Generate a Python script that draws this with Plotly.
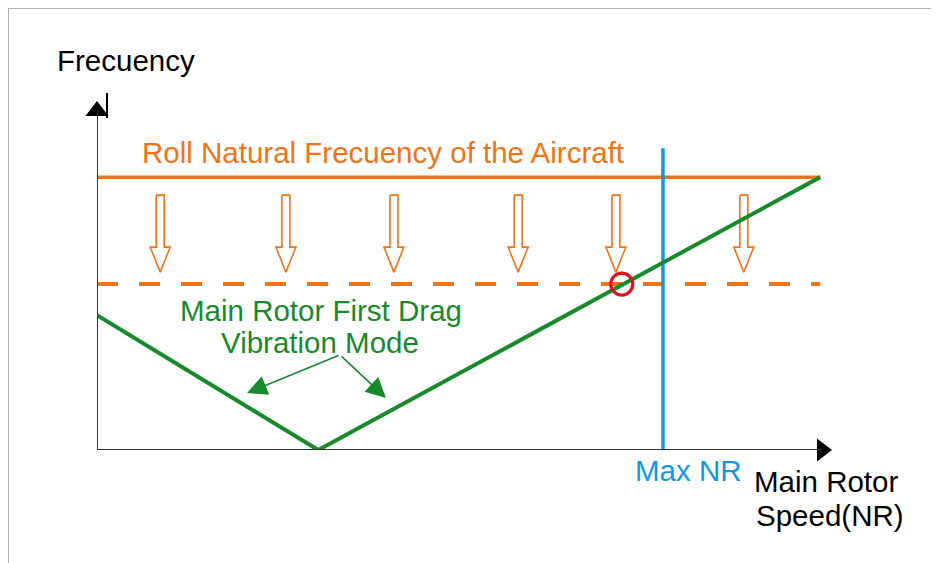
import plotly.graph_objects as go

W, H = 939, 563
OFF = 8                      # browser body margin
# plot-area pixel frame (axis origin and arrow tips), in window pixels
L, R, T, B = 97, 832, 97, 450

# ---- data (schematic units: 0..100 on both axes) ----
drag_speed = [0.0, 30.1, 98.4]          # main rotor first drag mode
drag_freq = [38.2, 0.0, 77.3]
roll_speed = [0.0, 98.4]
roll_freq = [77.3, 77.3]
shifted_speed = [0.0, 98.4]
shifted_freq = [47.0, 47.0]
max_nr_speed = 77.0
max_nr_top = 85.5
cross_speed = 71.4
cross_freq = 47.0
arrow_speeds = [8.6, 25.7, 40.4, 57.3, 70.6, 88.0]
arrow_top, arrow_bottom = 72.2, 50.4

ORANGE = "#f07317"
GREEN = "#178a2c"
BLUE = "#1496e0"
RED = "#e0101a"
FONT = "Liberation Sans, Arial, sans-serif"
FS = 29.5

sx = 100.0 / (R - L)   # data units per px
sy = 100.0 / (B - T)

def px(xp):
    return (xp - L) / (R - L)

def py(yp):
    return (B - yp) / (B - T)

fig = go.Figure()

# hollow downward arrows
for a in arrow_speeds:
    hs, hh, hl = 4 * sx, 10 * sx, 25 * sy
    xs = [a - hs, a + hs, a + hs, a + hh, a, a - hh, a - hs, a - hs]
    ys = [arrow_top, arrow_top, arrow_bottom + hl, arrow_bottom + hl,
          arrow_bottom, arrow_bottom + hl, arrow_bottom + hl, arrow_top]
    fig.add_trace(go.Scatter(x=xs, y=ys, mode="lines", fill="toself",
                             fillcolor="white", line=dict(color=ORANGE, width=1.6),
                             hoverinfo="skip", cliponaxis=False))

fig.add_trace(go.Scatter(x=roll_speed, y=roll_freq, mode="lines",
                         line=dict(color=ORANGE, width=3.5), cliponaxis=False))
fig.add_trace(go.Scatter(x=shifted_speed, y=shifted_freq, mode="lines",
                         line=dict(color=ORANGE, width=4, dash="21px,21px"),
                         cliponaxis=False))
fig.add_trace(go.Scatter(x=[max_nr_speed, max_nr_speed], y=[0, max_nr_top],
                         mode="lines", line=dict(color=BLUE, width=3.5),
                         cliponaxis=False))
fig.add_trace(go.Scatter(x=drag_speed, y=drag_freq, mode="lines",
                         line=dict(color=GREEN, width=4), cliponaxis=False))
fig.add_trace(go.Scatter(x=[cross_speed], y=[cross_freq], mode="markers",
                         marker=dict(symbol="circle-open", size=22, color=RED,
                                     line=dict(color=RED, width=3.2)),
                         cliponaxis=False))

# axes arrowheads
fig.add_trace(go.Scatter(x=[0], y=[100 - 14 * sy], mode="markers",
                         marker=dict(symbol="triangle-up", size=20, color="black"),
                         cliponaxis=False))
fig.add_trace(go.Scatter(x=[100 - 10 * sx], y=[0], mode="markers",
                         marker=dict(symbol="triangle-right", size=20, color="black"),
                         cliponaxis=False))

shapes = [
    # axes lines
    dict(type="line", xref="x", yref="y", x0=0, y0=0, x1=0, y1=100 - 14 * sy,
         line=dict(color="#333333", width=2)),
    dict(type="line", xref="x", yref="y", x0=0, y0=0, x1=100 - 10 * sx, y1=0,
         line=dict(color="#333333", width=2)),
    # small I-beam mark
    dict(type="line", xref="paper", yref="paper", x0=px(107), x1=px(107),
         y0=py(93), y1=py(118), line=dict(color="black", width=2)),
    # frame border
    dict(type="line", xref="paper", yref="paper", x0=px(7), x1=px(W),
         y0=py(8), y1=py(8), line=dict(color="#b4b4b4", width=2)),
    dict(type="line", xref="paper", yref="paper", x0=px(8), x1=px(8),
         y0=py(7), y1=py(H), line=dict(color="#b4b4b4", width=2)),
]

def txt(t, xp, yp, color, size=FS, xanchor="center"):
    return dict(text=t, x=px(xp), y=py(yp), xref="paper", yref="paper",
                showarrow=False, xanchor=xanchor, yanchor="middle",
                font=dict(family=FONT, size=size, color=color))

ann = [
    txt("Frecuency", 126, 61, "black"),
    txt("Roll Natural Frecuency of the Aircraft", 383, 152, ORANGE),
    txt("Main Rotor First Drag", 321, 310, GREEN),
    txt("Vibration Mode", 320, 342, GREEN),
    txt("Max NR", 688, 470, BLUE),
    txt("Main Rotor", 752, 481, "black", xanchor="left"),
    txt("Speed(NR)", 754, 515, "black", xanchor="left"),
]
# thin green pointer arrows
for tip_x, tip_y in [(247, 393), (386, 398)]:
    ann.append(dict(x=(tip_x - L) * sx, y=(B - tip_y) * sy, xref="x", yref="y",
                    ax=(340 - L) * sx, ay=(B - 355) * sy, axref="x", ayref="y",
                    showarrow=True, arrowhead=2, arrowsize=2.5, arrowwidth=1.6,
                    arrowcolor=GREEN, text=""))

fig.update_layout(
    width=W - OFF, height=H - OFF,
    margin=dict(l=L - OFF, r=W - R, t=T - OFF, b=H - B),
    paper_bgcolor="white", plot_bgcolor="white",
    showlegend=False,
    xaxis=dict(range=[0, 100], visible=False, fixedrange=True),
    yaxis=dict(range=[0, 100], visible=False, fixedrange=True),
    shapes=shapes, annotations=ann,
)

fig.write_html("out.html")
